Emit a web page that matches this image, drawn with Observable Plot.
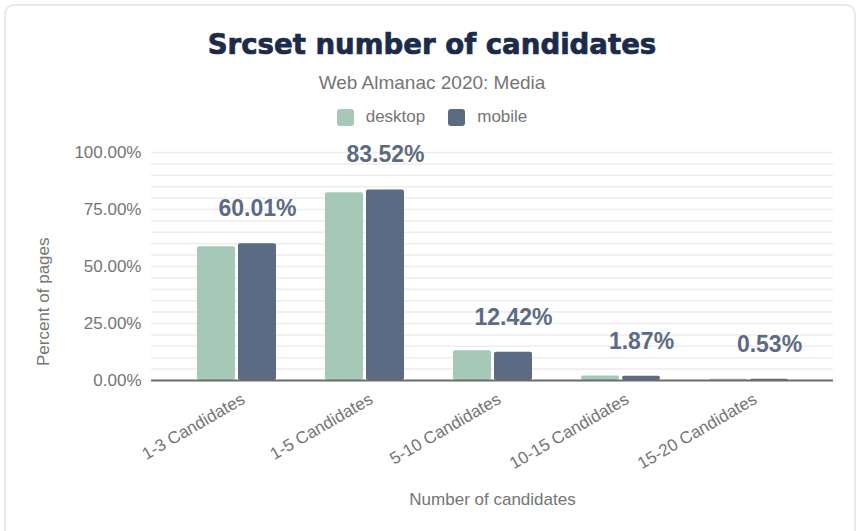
<!DOCTYPE html>
<html>
<head>
<meta charset="utf-8">
<script src="https://cdn.jsdelivr.net/npm/d3@7"></script>
<script src="https://cdn.jsdelivr.net/npm/@observablehq/plot@0.6"></script>
<style>
  html, body { margin: 0; padding: 0; background: #fff; }
  #wrap { position: relative; width: 859px; height: 531px; overflow: hidden; font-family: "Liberation Sans", Arial, sans-serif; }
  #card { position: absolute; left: 4px; top: 4px; width: 852px; height: 560px; border: 2px solid #e8e8e8; border-radius: 10px; box-sizing: border-box; }
  .center { position: absolute; left: 4px; width: 856px; text-align: center; }
  #title { top: 31px; font-family: "DejaVu Sans", sans-serif; font-weight: bold; font-size: 27.6px; line-height: 28px; color: #1a2b4b; -webkit-text-stroke: 0.7px #1a2b4b; }
  #subtitle { top: 73px; font-size: 19px; line-height: 19px; color: #757575; }
  #legend { top: 108px; display: flex; justify-content: center; align-items: center; font-size: 17px; line-height: 18px; color: #757575; }
  .sw { width: 17px; height: 17px; border-radius: 3px; margin-right: 12px; display: inline-block; }
  .item { display: flex; align-items: center; }
  #plot { position: absolute; left: 0; top: 135px; }
</style>
</head>
<body>
<div id="wrap">
  <div id="card"></div>
  <div id="title" class="center">Srcset number of candidates</div>
  <div id="subtitle" class="center">Web Almanac 2020: Media</div>
  <div id="legend" class="center"></div>
  <div id="plot"></div>
</div>
<script>
const categories = ["1-3 Candidates", "1-5 Candidates", "5-10 Candidates", "10-15 Candidates", "15-20 Candidates"];
const desktop = [58.7, 82.3, 13.0, 1.95, 0.5];
const mobile = [60.01, 83.52, 12.42, 1.87, 0.53];
const devices = ["desktop", "mobile"];
const colors = ["#a6c8b8", "#5c6b84"];
const yTicks = [0, 25, 50, 75, 100];

const desktopRows = categories.map((c, i) => ({category: c, device: "desktop", value: desktop[i]}));
const mobileRows = categories.map((c, i) => ({category: c, device: "mobile", value: mobile[i]}));

// legend
const legend = document.getElementById("legend");
devices.forEach((d, i) => {
  const item = document.createElement("span");
  item.className = "item";
  item.style.marginRight = i === 0 ? "23px" : "0";
  const sw = document.createElement("span");
  sw.className = "sw";
  sw.style.background = colors[i];
  item.appendChild(sw);
  item.appendChild(document.createTextNode(d));
  legend.appendChild(item);
});

const gray = "#757575";
const chart = Plot.plot({
  width: 859,
  height: 396,
  marginTop: 17,
  marginBottom: 151,
  marginLeft: 151,
  marginRight: 26,
  style: {fontFamily: "Liberation Sans, Arial, sans-serif", fontSize: "17px", color: gray, background: "transparent"},
  x: {domain: categories, paddingInner: 0.383, paddingOuter: 0.355, axis: null},
  y: {domain: [0, 100], ticks: yTicks, tickFormat: d => d.toFixed(2) + "%", tickSize: 0, tickPadding: 10, label: null},
  color: {domain: devices, range: colors},
  marks: [
    Plot.ruleY(d3.range(5, 101, 5), {stroke: "#ededed", strokeWidth: 1.5}),
    Plot.barY(desktopRows, {x: "category", y: "value", fill: "device", insetRight: 41, rx: 2}),
    Plot.barY(mobileRows, {x: "category", y: "value", fill: "device", insetLeft: 41, rx: 2}),
    Plot.ruleY([0], {stroke: "#6b6b6b", strokeWidth: 2}),
    Plot.text(mobileRows, {x: "category", y: "value", text: d => d.value.toFixed(2) + "%", dx: 20.5, dy: -35, fontSize: 23, fontWeight: "bold", fill: colors[1]}),
    Plot.text(categories, {x: d => d, frameAnchor: "bottom", text: d => d, textAnchor: "end", rotate: -30, dx: 9, dy: 22, fontSize: 17, fill: gray}),
    Plot.text(["Percent of pages"], {frameAnchor: "left", text: d => d, rotate: -90, dx: -108, dy: 99.5, fontSize: 17, fill: gray}),
    Plot.text(["Number of candidates"], {frameAnchor: "bottom", text: d => d, dy: 124, fontSize: 17, fill: gray})
  ]
});
document.getElementById("plot").appendChild(chart);
</script>
</body>
</html>
